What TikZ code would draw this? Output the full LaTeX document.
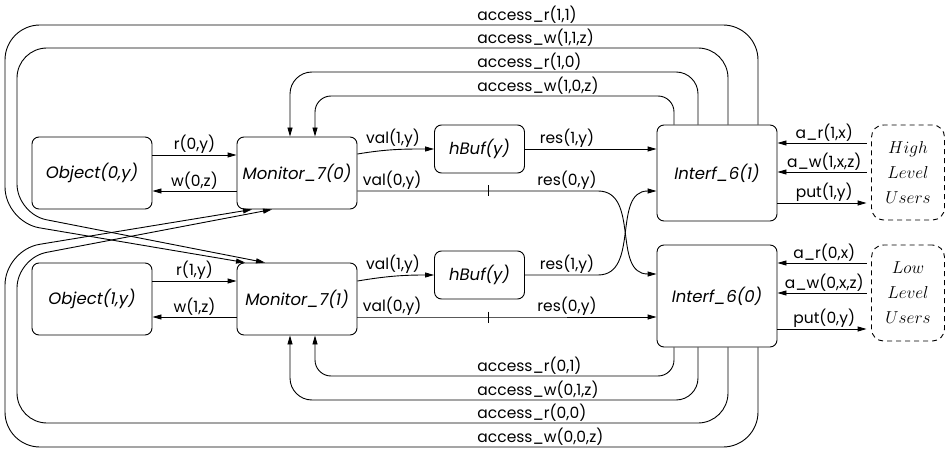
\documentclass[tikz,border=0pt]{standalone}
\usepackage{fontspec}
\newfontfamily\agf{Poppins}
\usetikzlibrary{arrows.meta,calc}

\begin{document}
\begin{tikzpicture}[x=1pt,y=-1pt,line width=0.9pt,
  box/.style={draw,rounded corners=7pt,inner sep=0pt,
    font=\agf\fontsize{16.5}{19}\selectfont\itshape},
  ubox/.style={draw,dash pattern=on 5pt off 4pt,rounded corners=12pt,inner sep=0pt,
    align=center,font=\fontsize{17}{25}\selectfont},
  lbl/.style={font=\agf\fontsize{15.5}{18}\selectfont,inner sep=1pt},
  arr/.style={-{Triangle[length=9pt,width=5pt]}},
  loop/.style={arr,rounded corners=#1},
]
\useasboundingbox (0,0) rectangle (945,449);

% ---- upper row
\node[box,minimum width=120pt,minimum height=72pt] (obj0) at (92,173) {Object(0,y)};
\node[box,minimum width=120pt,minimum height=72pt] (mon0) at (297,173) {Monitor\_7(0)};
\node[box,minimum width=90pt,minimum height=48pt] (hb1) at (479.5,149) {hBuf(y)};
\node[box,minimum width=120pt,minimum height=96pt] (int1) at (717,173) {Interf\_6(1)};
\node[ubox,minimum width=73pt,minimum height=95pt] (hi) at (908,172.5) {$High$\\$Level$\\$Users$};

% ---- lower row
\node[box,minimum width=120pt,minimum height=72pt] (obj1) at (92,299) {Object(1,y)};
\node[box,minimum width=120pt,minimum height=72pt] (mon1) at (297,299) {Monitor\_7(1)};
\node[box,minimum width=90pt,minimum height=48pt] (hb0) at (479.5,275) {hBuf(y)};
\node[box,minimum width=120pt,minimum height=102pt] (int0) at (717,296) {Interf\_6(0)};
\node[ubox,minimum width=73pt,minimum height=96pt] (lo) at (908,293) {$Low$\\$Level$\\$Users$};

% ---- objects and monitors
\draw[arr] ([yshift=18pt]obj0.east) -- node[lbl,above] (l-r0) {r(0,y)} ([yshift=18pt]mon0.west);
\draw[arr] ([yshift=-18pt]mon0.west) -- node[lbl,above] (l-w0) {w(0,z)} ([yshift=-18pt]obj0.east);
\draw[arr] ([yshift=18pt]obj1.east) -- node[lbl,above] (l-r1) {r(1,y)} ([yshift=18pt]mon1.west);
\draw[arr] ([yshift=-18pt]mon1.west) -- node[lbl,above] (l-w1) {w(1,z)} ([yshift=-18pt]obj1.east);

% ---- monitors to buffers
\draw[arr] ([yshift=19pt]mon0.east) .. controls +(30,-5) and +(-30,0) .. (hb1.west);
\node[lbl,anchor=south] (l-v1a) at (393,149) {val(1,y)};
\draw[arr] ([yshift=18pt]mon1.east) .. controls +(30,-5) and +(-30,0) .. (hb0.west);
\node[lbl,anchor=south] (l-v1b) at (393,275) {val(1,y)};

% ---- direct value lines and buffer results, crossing over
\draw[arr] ([yshift=-18pt]mon0.east) -- (488,191) coordinate (t1) -- (598,191)
  .. controls (640,191) and (612,274) .. ([yshift=22pt]int0.west);
\draw ([yshift=5.5pt]t1) -- ([yshift=-5.5pt]t1);
\node[lbl,anchor=south west] (l-v0a) at ([xshift=4pt,yshift=-18pt]mon0.east) {val(0,y)};
\node[lbl,anchor=south] (l-s0a) at (567,191) {res(0,y)};

\draw[arr] (hb1.east) -- (hb1.east -| int1.west);
\node[lbl,anchor=south] (l-s1a) at (567,149) {res(1,y)};

\draw[arr] (hb0.east) -- (598,275)
  .. controls (640,275) and (612,191) .. ([yshift=-18pt]int1.west);
\node[lbl,anchor=south] (l-s1b) at (567,275) {res(1,y)};

\draw[arr] ([yshift=-18pt]mon1.east) -- (488,317) coordinate (t2) -- ([yshift=-21pt]int0.west);
\draw ([yshift=5.5pt]t2) -- ([yshift=-5.5pt]t2);
\node[lbl,anchor=south west] (l-v0b) at ([xshift=4pt,yshift=-18pt]mon1.east) {val(0,y)};
\node[lbl,anchor=south] (l-s0b) at (567,317) {res(0,y)};

% ---- users
\coordinate (ar1) at ([yshift=30pt]int1.east);
\coordinate (aw1) at ([yshift=1pt]int1.east);
\coordinate (pt1) at ([yshift=-30pt]int1.east);
\draw[arr,shorten <=4.5pt] (hi.west |- ar1) -- node[lbl,above] (l-ar1) {a\_r(1,x)} (ar1);
\draw[arr,shorten <=4.5pt] (hi.west |- aw1) -- node[lbl,above] (l-aw1) {a\_w(1,x,z)} (aw1);
\draw[arr,shorten >=4.5pt] (pt1) -- node[lbl,above] (l-pt1) {put(1,y)} (hi.west |- pt1);

\coordinate (ar0) at ([yshift=33pt]int0.east);
\coordinate (aw0) at ([yshift=3pt]int0.east);
\coordinate (pt0) at ([yshift=-33pt]int0.east);
\draw[arr,shorten <=4.5pt] (lo.west |- ar0) -- node[lbl,above] (l-ar0) {a\_r(0,x)} (ar0);
\draw[arr,shorten <=4.5pt] (lo.west |- aw0) -- node[lbl,above] (l-aw0) {a\_w(0,x,z)} (aw0);
\draw[arr,shorten >=4.5pt] (pt0) -- node[lbl,above] (l-pt0) {put(0,y)} (lo.west |- pt0);

% ---- access channels from the upper interface
\draw[loop=35pt] ([xshift=41pt]int1.north) -- (758,25) -- (5,25) -- (5,222) -- ([xshift=-52pt]mon1.north);
\draw[loop=30pt] ([xshift=11pt]int1.north) -- (728,48) -- (17,48) -- (17,214) -- ([xshift=-32pt]mon1.north);
\draw[loop=22pt] ([xshift=-19pt]int1.north) -- (698,72) -- (290,72) -- ([xshift=-7pt]mon0.north);
\draw[loop=16pt] ([xshift=-43pt]int1.north) -- (674,96) -- (315,96) -- ([xshift=18pt]mon0.north);
\node[lbl,anchor=south west] (l-a11) at (476,25) {access\_r(1,1)};
\node[lbl,anchor=south west] (l-b11) at (476,48) {access\_w(1,1,z)};
\node[lbl,anchor=south west] (l-a10) at (476,72) {access\_r(1,0)};
\node[lbl,anchor=south west] (l-b10) at (476,96) {access\_w(1,0,z)};

% ---- access channels from the lower interface
\draw[loop=16pt] ([xshift=-43pt]int0.south) -- (674,376) -- (315,376) -- ([xshift=18pt]mon1.south);
\draw[loop=22pt] ([xshift=-19pt]int0.south) -- (698,400) -- (290,400) -- ([xshift=-7pt]mon1.south);
\draw[loop=30pt] ([xshift=11pt]int0.south) -- (728,423) -- (17,423) -- (17,258) -- ([xshift=-25pt]mon0.south);
\draw[loop=35pt] ([xshift=41pt]int0.south) -- (758,447) -- (5,447) -- (5,250) -- ([xshift=-45pt]mon0.south);
\node[lbl,anchor=south west] (l-a01) at (476,376) {access\_r(0,1)};
\node[lbl,anchor=south west] (l-b01) at (476,400) {access\_w(0,1,z)};
\node[lbl,anchor=south west] (l-a00) at (476,423) {access\_r(0,0)};
\node[lbl,anchor=south west] (l-b00) at (476,447) {access\_w(0,0,z)};
\end{tikzpicture}
\end{document}
